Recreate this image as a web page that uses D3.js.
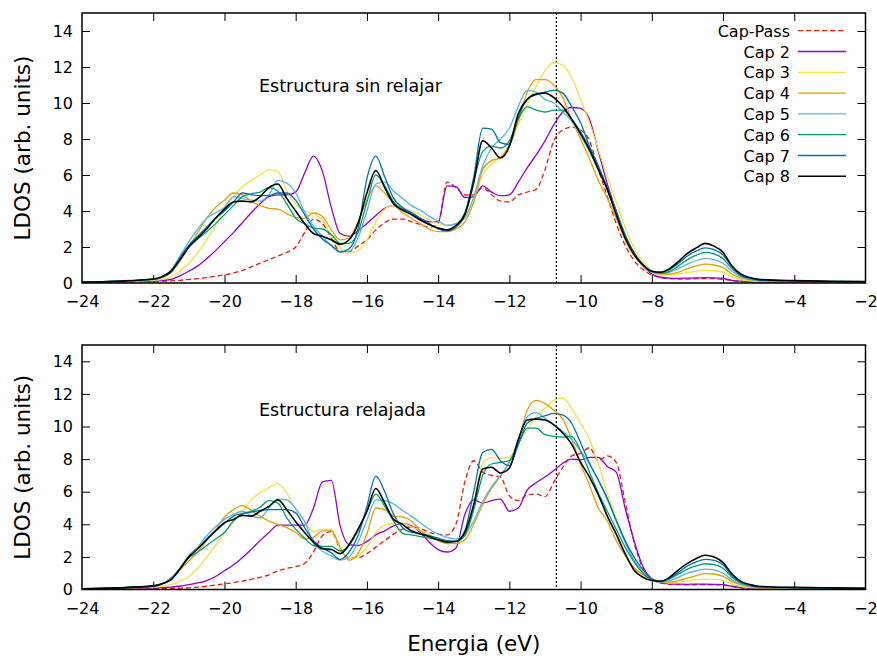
<!DOCTYPE html>
<html>
<head>
<meta charset="utf-8">
<script src="https://cdn.jsdelivr.net/npm/d3@7"></script>
<style>
  body { margin: 0; background: #fff; }
  svg { display: block; }
  text { font-family: "DejaVu Sans", sans-serif; fill: #000; }
</style>
</head>
<body>
<svg id="chart" width="877" height="656"></svg>
<script>
// Energy grid (eV) shared by every LDOS curve
const energy = [
  -24, -23,
  -22, -21.75, -21.5, -21.25,
  -21, -20.75, -20.5, -20.25,
  -20, -19.75, -19.5, -19.25,
  -19, -18.75, -18.5, -18.25,
  -18, -17.75, -17.5, -17.25,
  -17, -16.75, -16.5, -16.25,
  -16, -15.75, -15.5, -15.25,
  -15, -14.75, -14.5, -14.25,
  -14, -13.75, -13.5, -13.25,
  -13, -12.75, -12.5, -12.25,
  -12, -11.75, -11.5, -11.25,
  -11, -10.75, -10.5, -10.25,
  -10, -9.75, -9.5, -9.25,
  -9, -8.75, -8.5, -8.25,
  -8, -7.75, -7.5, -7.25,
  -7, -6.75, -6.5, -6.25,
  -6, -5.75, -5.5, -5.25,
  -5, -4, -3, -2
];

const xTicks = [-24, -22, -20, -18, -16, -14, -12, -10, -8, -6, -4, -2];
const yTicks = [0, 2, 4, 6, 8, 10, 12, 14];
const seriesNames = ["Cap-Pass", "Cap 2", "Cap 3", "Cap 4", "Cap 5", "Cap 6", "Cap 7", "Cap 8"];
const seriesColors = ["#e51e10", "#9400d3", "#f0e442", "#e69f00", "#56b4e9", "#009e73", "#0072b2", "#000000"];
const fermiLevel = -10.68;
const panelTitles = ["Estructura sin relajar", "Estructura relajada"];

// ---- Unrelaxed structure ----
const capPassU = [
  0.02, 0.04,
  0.08, 0.1, 0.12, 0.15,
  0.2, 0.24, 0.3, 0.37,
  0.45, 0.55, 0.7, 0.9,
  1.1, 1.3, 1.5, 1.7,
  2.0, 2.8, 3.55, 3.3,
  2.5, 1.75, 1.75, 2.05,
  2.4, 2.95, 3.35, 3.55,
  3.55, 3.4, 3.25, 3.1,
  3.3, 5.6, 5.3, 4.9,
  4.9, 5.3, 4.9, 4.55,
  4.5, 4.9, 5.05, 5.2,
  6.3, 7.9, 8.5, 8.65,
  8.5, 7.9, 6.3, 4.8,
  3.3, 2.1, 1.25, 0.75,
  0.45, 0.3, 0.25, 0.22,
  0.22, 0.24, 0.25, 0.24,
  0.2, 0.13, 0.08, 0.06,
  0.05, 0.04, 0.03, 0.03
];
const cap2U = [
  0.03, 0.06,
  0.1, 0.13, 0.2, 0.4,
  0.65, 0.95, 1.35, 1.8,
  2.3, 2.8, 3.35, 3.9,
  4.4, 4.8, 4.9, 4.9,
  5.05, 6.1, 7.05, 6.2,
  4.2, 2.75, 2.6, 2.9,
  3.3, 3.75, 4.15, 4.3,
  4.1, 3.9, 3.6, 3.4,
  3.4, 5.4, 5.35, 4.75,
  4.8, 5.4, 5.05, 4.85,
  4.9, 5.6, 6.4, 7.1,
  7.9, 8.8, 9.5, 9.75,
  9.7, 9.1, 7.3, 5.5,
  4.0, 2.6, 1.6, 0.95,
  0.5, 0.32, 0.27, 0.26,
  0.27, 0.28, 0.3, 0.29,
  0.25, 0.15, 0.1, 0.07,
  0.06, 0.04, 0.03, 0.03
];
const cap3U = [
  0.04, 0.08,
  0.15, 0.2, 0.35, 0.65,
  1.1, 1.7, 2.4, 3.2,
  4.1, 4.8, 5.35, 5.7,
  6.0, 6.3, 6.2, 5.1,
  4.4, 4.0, 3.85, 3.5,
  2.6, 1.95, 1.65, 1.8,
  2.4, 3.4, 4.1, 4.3,
  4.2, 4.0, 3.8, 3.5,
  3.3, 3.2, 3.3, 3.7,
  4.6, 6.0, 6.6, 7.0,
  7.6, 8.8, 9.9, 10.9,
  11.8, 12.25, 12.1, 11.4,
  10.2, 8.9, 7.4, 5.9,
  4.5, 3.1, 1.95, 1.2,
  0.7, 0.5, 0.45, 0.5,
  0.58, 0.66, 0.7, 0.68,
  0.6, 0.35, 0.2, 0.12,
  0.08, 0.07, 0.06, 0.05
];
const cap4U = [
  0.05, 0.1,
  0.2, 0.3, 0.6, 1.2,
  2.0, 2.8, 3.6, 4.2,
  4.6, 5.0, 4.9, 4.55,
  4.3, 4.15, 4.1, 3.85,
  3.65, 3.6, 3.9, 3.7,
  2.95, 2.4, 2.5, 3.4,
  4.6, 5.4, 5.0, 4.4,
  3.9, 3.6, 3.3, 3.0,
  2.85, 2.85, 3.0, 3.4,
  4.5, 6.3, 6.8, 6.95,
  7.7, 9.0, 10.6, 11.3,
  11.3, 11.0, 10.3, 9.1,
  8.0, 6.9, 5.7, 4.7,
  3.6, 2.4, 1.5, 0.95,
  0.6, 0.5, 0.5, 0.6,
  0.8, 0.95, 1.05, 1.0,
  0.85, 0.5, 0.28, 0.18,
  0.12, 0.09, 0.07, 0.06
];
const cap5U = [
  0.05, 0.1,
  0.2, 0.32, 0.7, 1.5,
  2.3, 3.0, 3.6, 3.9,
  4.2, 4.8, 4.7, 4.6,
  4.55, 4.9, 5.7, 5.55,
  5.0, 3.95, 3.15, 2.6,
  2.05, 1.75, 1.75, 2.5,
  4.0, 5.5, 5.6, 5.1,
  4.7, 4.3, 4.05, 3.7,
  3.45, 3.2, 3.3, 3.6,
  4.8, 6.5, 7.5, 8.0,
  8.6, 9.8, 10.7, 10.6,
  10.2, 10.0, 9.5, 9.0,
  8.2, 7.3, 6.3, 5.2,
  3.9, 2.6, 1.6, 1.0,
  0.62, 0.55, 0.6, 0.8,
  1.05, 1.25, 1.37, 1.3,
  1.1, 0.65, 0.35, 0.2,
  0.14, 0.1, 0.08, 0.06
];
const cap6U = [
  0.05, 0.1,
  0.2, 0.32, 0.6, 1.3,
  2.0, 2.45, 2.85, 3.3,
  3.8, 4.3, 4.8, 4.95,
  5.05, 5.3, 5.1, 4.4,
  3.6, 3.3, 3.05, 3.0,
  2.7, 2.2, 2.2, 2.8,
  4.5, 6.0, 5.4, 4.5,
  4.1, 3.8, 3.5, 3.25,
  3.05, 2.95, 3.2, 3.9,
  5.7, 7.3, 7.6, 7.5,
  7.9, 9.1, 9.8, 9.6,
  9.5, 9.6, 9.6, 9.1,
  8.4, 7.5, 6.4, 5.2,
  3.9, 2.6, 1.65, 1.0,
  0.62, 0.55, 0.65, 0.95,
  1.3, 1.55, 1.7, 1.62,
  1.35, 0.8, 0.4, 0.25,
  0.16, 0.11, 0.08, 0.06
];
const cap7U = [
  0.05, 0.1,
  0.22, 0.35, 0.7, 1.4,
  2.1, 2.6, 3.1, 3.6,
  4.0, 4.5, 5.0, 4.9,
  4.85, 4.85, 5.0, 5.0,
  4.6, 3.8, 3.0, 2.45,
  2.1, 1.72, 1.9, 3.0,
  5.8, 7.05, 5.9, 4.7,
  4.2, 3.9, 3.6, 3.3,
  3.0, 2.9, 3.1, 3.8,
  5.9, 8.6, 8.55, 7.8,
  7.7, 9.2, 10.2, 10.45,
  10.6, 10.7, 10.55, 9.8,
  8.9, 7.6, 6.5, 5.3,
  4.0, 2.7, 1.7, 1.05,
  0.65, 0.6, 0.75, 1.1,
  1.5, 1.78, 1.95, 1.85,
  1.55, 0.9, 0.45, 0.28,
  0.18, 0.12, 0.09, 0.07
];
const cap8U = [
  0.05, 0.1,
  0.22, 0.35, 0.65, 1.3,
  2.0, 2.5, 3.0, 3.6,
  4.1, 4.5, 4.55, 4.5,
  4.8, 5.3, 5.5, 4.7,
  4.0, 3.3, 2.75, 2.6,
  2.4, 2.15, 2.4, 3.3,
  5.0, 6.25, 5.3, 4.4,
  4.05, 3.8, 3.5, 3.25,
  3.05, 2.95, 3.2, 3.8,
  5.6, 7.9, 7.5, 6.95,
  7.6, 9.4, 10.2, 10.5,
  10.55, 10.3, 9.8, 9.1,
  8.3, 7.4, 6.3, 5.2,
  3.8, 2.5, 1.6, 1.0,
  0.65, 0.6, 0.8, 1.2,
  1.65, 1.95, 2.2, 2.05,
  1.7, 0.95, 0.5, 0.3,
  0.2, 0.13, 0.1, 0.08
];

// ---- Relaxed structure ----
const capPassR = [
  0.01, 0.02,
  0.04, 0.05, 0.06, 0.08,
  0.1, 0.15, 0.2, 0.27,
  0.35, 0.42, 0.52, 0.62,
  0.75, 0.9, 1.15, 1.3,
  1.4, 1.6, 2.3, 3.3,
  3.55, 2.45, 1.95, 1.95,
  2.2, 2.6, 3.0, 3.4,
  3.7, 3.85, 3.75, 3.5,
  3.4, 3.35, 4.0, 6.6,
  7.9, 7.2, 7.0, 6.9,
  5.75, 5.45, 5.8, 5.85,
  5.7, 6.6, 7.5, 8.2,
  8.35, 8.7, 7.9, 8.2,
  7.8, 5.4, 2.9, 1.3,
  0.65, 0.4, 0.32, 0.3,
  0.28, 0.29, 0.3, 0.29,
  0.27, 0.18, 0.1, 0.07,
  0.05, 0.04, 0.03, 0.03
];
const cap2R = [
  0.03, 0.06,
  0.1, 0.12, 0.15, 0.2,
  0.3, 0.4, 0.55, 0.8,
  1.15, 1.5, 1.95, 2.45,
  3.0, 3.5, 3.95, 3.95,
  3.95, 3.95, 5.0, 6.6,
  6.7, 3.9, 2.75, 2.7,
  2.95, 3.35, 3.6, 3.9,
  4.05, 3.9, 3.5, 2.9,
  2.45, 2.3, 2.55, 4.6,
  5.5, 5.3, 5.45, 5.55,
  4.8, 5.0, 6.1, 6.55,
  6.9, 7.3, 7.75, 8.0,
  7.95, 8.1, 8.1, 7.55,
  7.2, 5.0, 3.0, 1.4,
  0.65, 0.4, 0.35, 0.33,
  0.32, 0.33, 0.33, 0.32,
  0.3, 0.2, 0.12, 0.08,
  0.06, 0.04, 0.03, 0.03
];
const cap3R = [
  0.04, 0.08,
  0.15, 0.2, 0.3, 0.5,
  0.8, 1.3, 2.0, 2.7,
  3.45, 4.15, 4.8, 5.5,
  5.95, 6.25, 6.5, 5.9,
  4.9, 4.15, 3.55, 3.7,
  3.65, 2.5, 1.9, 2.05,
  2.6, 3.5, 3.95, 4.05,
  4.05, 3.85, 3.6, 3.35,
  3.1, 3.0, 2.95, 3.3,
  5.2, 7.7, 8.1, 8.05,
  8.1, 9.0, 9.8, 10.6,
  11.1, 11.6, 11.75, 11.1,
  10.2, 9.2, 7.7, 5.9,
  4.4, 3.0, 1.8, 1.05,
  0.6, 0.45, 0.4, 0.45,
  0.52, 0.6, 0.63, 0.62,
  0.55, 0.35, 0.2, 0.12,
  0.08, 0.07, 0.06, 0.05
];
const cap4R = [
  0.05, 0.1,
  0.2, 0.35, 0.7, 1.2,
  1.75, 2.3, 3.0, 3.65,
  4.45, 4.9, 5.15, 4.85,
  4.5, 4.2, 4.0, 3.8,
  3.5, 3.1, 3.2, 3.6,
  3.6, 2.6, 1.8, 2.2,
  3.4, 5.0, 4.9, 4.5,
  4.45, 4.2, 3.6, 3.25,
  3.0, 2.82, 2.82, 3.05,
  4.0, 5.2, 6.2, 6.95,
  7.85, 9.1, 11.0, 11.6,
  11.4, 11.0, 10.45, 9.2,
  7.7, 6.4, 5.0, 4.2,
  3.0, 2.1, 1.35, 0.9,
  0.6, 0.45, 0.45, 0.55,
  0.7, 0.85, 0.97, 0.95,
  0.8, 0.5, 0.28, 0.17,
  0.11, 0.08, 0.06, 0.05
];
const cap5R = [
  0.05, 0.1,
  0.2, 0.35, 0.7, 1.3,
  2.1, 2.6, 3.3, 3.85,
  4.3, 4.6, 4.8, 4.5,
  4.4, 5.0, 5.55, 5.5,
  4.95, 4.2, 2.85, 2.35,
  2.05, 1.8, 2.0, 2.9,
  4.25, 5.5, 5.45, 5.25,
  4.85, 4.5, 4.1, 3.7,
  3.4, 3.2, 3.1, 3.4,
  4.2, 5.4, 6.3, 7.0,
  7.8, 9.1, 10.6, 10.85,
  10.5, 10.1, 9.7, 9.2,
  8.5, 7.7, 6.7, 5.5,
  4.2, 2.9, 1.8, 1.05,
  0.6, 0.45, 0.55, 0.75,
  1.0, 1.15, 1.25, 1.2,
  1.0, 0.6, 0.33, 0.2,
  0.13, 0.1, 0.08, 0.06
];
const cap6R = [
  0.05, 0.1,
  0.2, 0.35, 0.65, 1.3,
  1.95, 2.3, 2.7, 3.1,
  3.5, 4.2, 4.65, 4.8,
  5.05, 5.45, 5.3, 4.4,
  3.7, 3.15, 2.7, 2.65,
  2.65, 2.35, 2.7, 3.6,
  4.8, 5.85, 5.1, 4.2,
  3.45, 3.35, 3.25, 3.15,
  3.05, 2.95, 2.95, 3.3,
  4.9, 7.0, 7.7, 7.8,
  7.9, 8.9, 9.9, 9.9,
  9.5, 9.4, 9.35, 9.4,
  8.5, 7.2, 5.9, 4.8,
  3.7, 2.6, 1.7, 1.0,
  0.6, 0.5, 0.65, 0.95,
  1.25, 1.45, 1.58, 1.52,
  1.3, 0.75, 0.4, 0.24,
  0.15, 0.11, 0.08, 0.06
];
const cap7R = [
  0.05, 0.1,
  0.22, 0.35, 0.65, 1.3,
  2.0, 2.5, 3.1, 3.6,
  4.05, 4.5, 4.65, 4.75,
  4.85, 4.9, 4.9, 4.9,
  4.7, 3.8, 3.0, 2.55,
  2.25, 1.85, 2.3, 3.3,
  5.1, 6.95, 6.0, 4.6,
  3.8, 3.5, 3.45, 3.3,
  3.15, 3.0, 2.95, 3.6,
  6.0, 8.4, 8.6, 7.9,
  7.6, 8.9, 10.2, 10.5,
  10.65, 10.8, 10.7, 10.2,
  9.0, 7.75, 6.7, 5.6,
  4.25, 3.0, 2.0, 1.2,
  0.65, 0.5, 0.7, 1.05,
  1.45, 1.7, 1.85, 1.78,
  1.5, 0.85, 0.45, 0.27,
  0.17, 0.12, 0.09, 0.07
];
const cap8R = [
  0.05, 0.1,
  0.22, 0.35, 0.6, 1.25,
  2.0, 2.5, 3.05, 3.6,
  4.1, 4.3, 4.55, 4.5,
  4.8, 5.1, 5.5, 4.9,
  4.15, 3.5, 2.9, 2.5,
  2.45, 2.2, 2.75, 3.7,
  4.8, 6.2, 5.3, 4.3,
  4.0, 3.6, 3.4, 3.25,
  3.05, 2.9, 2.95, 3.5,
  5.2, 7.4, 7.5, 7.15,
  7.45, 9.2, 10.4, 10.45,
  10.4, 10.1, 9.6, 8.9,
  7.8, 6.9, 5.8, 4.5,
  3.4, 2.2, 1.2, 0.75,
  0.55, 0.5, 0.75, 1.2,
  1.6, 1.9, 2.1, 2.0,
  1.65, 0.95, 0.5, 0.3,
  0.2, 0.13, 0.1, 0.08
];

const unrelaxedSeries = [capPassU, cap2U, cap3U, cap4U, cap5U, cap6U, cap7U, cap8U];
const relaxedSeries = [capPassR, cap2R, cap3R, cap4R, cap5R, cap6R, cap7R, cap8R];

const svg = d3.select("#chart");
const left = 82, right = 865.5;
const tickLen = 8;

const x = d3.scaleLinear().domain([-24, -2]).range([left, right]);

const panels = [
  { title: panelTitles[0], data: unrelaxedSeries, top: 13, bottom: 283, legend: true, titleY: 92 },
  { title: panelTitles[1], data: relaxedSeries, top: 345, bottom: 589.5, legend: false, titleY: 416 }
];

panels.forEach((p, pi) => {
  const y = d3.scaleLinear().domain([0, 15]).range([p.bottom, p.top]);
  const g = svg.append("g");

  const clipId = "clip" + pi;
  svg.append("clipPath").attr("id", clipId)
    .append("rect")
    .attr("x", left).attr("y", p.top)
    .attr("width", right - left).attr("height", p.bottom - p.top);

  // axes with inward ticks on all four sides
  const axB = g.append("g").attr("transform", `translate(0,${p.bottom})`)
    .call(d3.axisBottom(x).tickValues(xTicks).tickSize(-tickLen).tickPadding(13).tickFormat(d3.format("d")));
  const axT = g.append("g").attr("transform", `translate(0,${p.top})`)
    .call(d3.axisTop(x).tickValues(xTicks).tickSize(-tickLen).tickFormat(""));
  const axL = g.append("g").attr("transform", `translate(${left},0)`)
    .call(d3.axisLeft(y).tickValues(yTicks).tickSize(-tickLen).tickPadding(9).tickFormat(d3.format("d")));
  const axR = g.append("g").attr("transform", `translate(${right},0)`)
    .call(d3.axisRight(y).tickValues(yTicks).tickSize(-tickLen).tickFormat(""));
  [axB, axT, axL, axR].forEach(a => {
    a.select(".domain").remove();
    a.selectAll(".tick line").attr("stroke", "#000").attr("stroke-width", 1);
    a.selectAll("text").attr("font-size", 16).attr("fill", "#000")
      .attr("font-family", "DejaVu Sans, sans-serif");
  });
  // the first and last ticks sit on the frame
  axB.selectAll(".tick").filter(d => d === -24 || d === -2).select("line").remove();
  axT.selectAll(".tick").filter(d => d === -24 || d === -2).select("line").remove();
  axL.selectAll(".tick").filter(d => d === 0).select("line").remove();
  axR.selectAll(".tick").filter(d => d === 0).select("line").remove();

  // Fermi level marker
  g.append("line")
    .attr("x1", x(fermiLevel)).attr("x2", x(fermiLevel))
    .attr("y1", p.top).attr("y2", p.bottom)
    .attr("stroke", "#000").attr("stroke-width", 1.2)
    .attr("stroke-dasharray", "2,2");

  // LDOS curves
  const line = d3.line()
    .x((d, i) => x(energy[i]))
    .y(d => y(d))
    .curve(d3.curveMonotoneX);

  const curves = g.append("g").attr("clip-path", `url(#${clipId})`);
  p.data.forEach((vals, si) => {
    curves.append("path")
      .datum(vals)
      .attr("d", line)
      .attr("fill", "none")
      .attr("stroke", seriesColors[si])
      .attr("stroke-width", si === 7 ? 1.6 : 1.3)
      .attr("stroke-linejoin", "round")
      .attr("stroke-dasharray", si === 0 ? "5,3" : null);
  });

  // frame
  g.append("rect")
    .attr("x", left).attr("y", p.top)
    .attr("width", right - left).attr("height", p.bottom - p.top)
    .attr("fill", "none").attr("stroke", "#000").attr("stroke-width", 1.5);

  // panel caption
  g.append("text")
    .attr("x", 259).attr("y", p.titleY)
    .attr("font-size", 17.5)
    .text(p.title);

  // y-axis label
  g.append("text")
    .attr("transform", `translate(30,${(p.top + p.bottom) / 2}) rotate(-90)`)
    .attr("text-anchor", "middle")
    .attr("font-size", 21.5)
    .text("LDOS (arb. units)");

  if (p.legend) {
    const lg = g.append("g");
    seriesNames.forEach((name, si) => {
      const ly = 30.7 + si * 20.8;
      lg.append("text")
        .attr("x", 790).attr("y", ly + 6)
        .attr("text-anchor", "end")
        .attr("font-size", 16)
        .text(name);
      lg.append("line")
        .attr("x1", 798).attr("x2", 846)
        .attr("y1", ly).attr("y2", ly)
        .attr("stroke", seriesColors[si])
        .attr("stroke-width", si === 7 ? 1.6 : 1.3)
        .attr("stroke-dasharray", si === 0 ? "5,3" : null);
    });
  }
});

// x-axis label
svg.append("text")
  .attr("x", (left + right) / 2).attr("y", 651)
  .attr("text-anchor", "middle")
  .attr("font-size", 21.5)
  .text("Energia (eV)");
</script>
</body>
</html>
